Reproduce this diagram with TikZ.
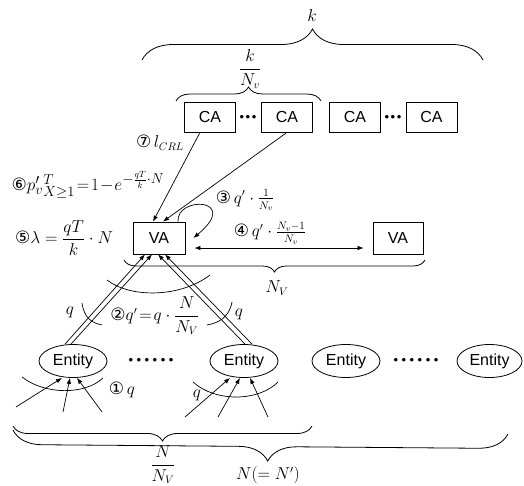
\documentclass[tikz,border=0pt]{standalone}
\usepackage{amsmath}
\usepackage{amssymb}
\usepackage{fontspec}
\newfontfamily\boxfont{Liberation Sans}
\newfontfamily\circfont{DejaVu Sans}
\usepackage{tikz}
\usetikzlibrary{shapes, arrows.meta, positioning, calc, decorations.pathreplacing}

\tikzset{
  agent/.style={draw, line width=0.8pt, minimum width=51pt, minimum height=30pt, inner sep=0pt,
    font=\boxfont\fontsize{16}{18}\selectfont},
  entity/.style={draw, ellipse, line width=0.8pt, minimum width=68pt, minimum height=33pt, inner sep=0pt,
    font=\boxfont\fontsize{16}{18}\selectfont},
  lbl/.style={inner sep=0pt, font=\fontsize{16}{18}\selectfont},
  dotrow/.style={inner sep=0pt, font=\boxfont\fontsize{13}{13}\selectfont},
  arr/.style={-{Latex[length=6pt,width=4.5pt]}, line width=0.7pt},
  curly/.style={decorate, decoration={brace, amplitude=#1}, line width=0.8pt},
  curlydown/.style={decorate, decoration={brace, mirror, amplitude=#1}, line width=0.8pt},
  crossline/.style={line width=0.7pt}
}
\newcommand{\cnum}[1]{{\circfont\fontsize{17}{18}\selectfont #1}}

\begin{document}
\begin{tikzpicture}[x=1pt, y=-1pt]
  \useasboundingbox (0,0) rectangle (524,485);

  % CA boxes
  \node[agent] (ca1) at (210,117) {CA};
  \node[agent] (ca2) at (287,117) {CA};
  \node[agent] (ca3) at (355,117) {CA};
  \node[agent] (ca4) at (431.5,117) {CA};
  \node[dotrow] (cadots1) at (248,118) {•\hspace{1.5pt}•\hspace{1.5pt}•};
  \node[dotrow] (cadots2) at (393,118) {•\hspace{1.5pt}•\hspace{1.5pt}•};

  % VA boxes
  \node[agent, minimum width=52pt, minimum height=32pt] (va1) at (159,238) {VA};
  \node[agent, minimum width=50pt, minimum height=32pt] (va2) at (398,238) {VA};

  % Entities
  \node[entity] (ent1) at (73,361) {Entity};
  \node[entity] (ent2) at (244,361) {Entity};
  \node[entity] (ent3) at (346,361) {Entity};
  \node[entity, minimum width=65pt] (ent4) at (489.5,361) {Entity};
  \node[dotrow] (entdots1) at (151,361) {•\hspace{3.5pt}•\hspace{3.5pt}•\hspace{3.5pt}•\hspace{3.5pt}•\hspace{3.5pt}•};
  \node[dotrow] (entdots2) at (416,361) {•\hspace{3.5pt}•\hspace{3.5pt}•\hspace{3.5pt}•\hspace{3.5pt}•\hspace{3.5pt}•};

  % Braces
  \draw[curly=31] (142,60) -- (483,60);
  \draw[curly=14] (176,101) -- (321,101);
  \draw[curlydown=12] (124,260) -- (425,260);
  \draw[curlydown=15] (13,426) -- (312,426);
  \draw[decorate, decoration={brace, mirror, amplitude=29, aspect=0.515}, line width=0.8pt] (13,430) -- (508,434);

  \node[lbl] (klbl) at (312,15) {$k$};
  \node[lbl] (kfrac) at (250,69) {$\dfrac{k}{N_v}$};
  \node[lbl] (nvlbl) at (277,288) {$N_V$};
  \node[lbl] (nfrac) at (163,465) {$\dfrac{N}{N_V}$};
  \node[lbl] (nall) at (268,475) {$N(=N')$};

  % CRL download
  \draw[arr] ($(ca1.south)+(-10,0)$) -- ($(va1.north)+(-6,0)$);
  \draw[arr] (ca2.south) -- ($(va1.north)+(4,0)$);
  \node[lbl] (crl) at (160,143) {\cnum{⑦}\,$l_{CRL}$};

  % Self loop and VA to VA
  \draw[arr] ($(va1.north)+(19,0)$) .. controls +(-2,-26) and +(48,-40) .. ($(va1.east)+(8,0)$);
  \draw[{Latex[length=6pt,width=4.5pt]}-{Latex[length=6pt,width=4.5pt]}, line width=0.7pt]
    ($(va1.east)+(9,10)$) -- ($(va2.west)+(-9,10)$);
  \node[lbl] (loop) at (245,200) {\cnum{③}\,$q'\cdot\frac{1}{N_v}$};
  \node[lbl] (other) at (270,233) {\cnum{④}\,$q'\cdot\frac{N_v-1}{N_v}$};

  % Formulas on the left
  \node[lbl, font=\fontsize{19}{21}\selectfont] (pform) at (88,185)
    {\cnum{⑥}$p'_{v}{}^{T}_{X\geq 1}\!=\!1\!-\!e^{-\frac{qT}{k}\cdot N}$};
  \node[lbl] (lam) at (64,238) {\cnum{⑤}$\lambda=\dfrac{qT}{k}\cdot N$};

  % Entity to VA queries
  \draw[arr] ($(ent1.north)+(-8,0)$) -- ($(va1.south)+(-14,0)$);
  \draw[arr] ($(ent1.north)+(-2,0)$) -- ($(va1.south)+(-7,0)$);
  \draw[arr] ($(ent2.north)+(1,0)$) -- ($(va1.south)+(-1,0)$);
  \draw[arr] ($(ent2.north)+(8,0)$) -- ($(va1.south)+(6,0)$);
  \draw[crossline] (107,280) .. controls (130,298) and (180,298) .. (210,275);
  \draw[crossline] (82,303) .. controls (84,318) and (92,323) .. (102,325);
  \draw[crossline] (232,302) .. controls (229,318) and (218,323) .. (207,325);
  \node[lbl] (qleft) at (70,312) {$q$};
  \node[lbl] (qright) at (239,314) {$q$};
  \node[lbl] (qprime) at (155,316) {\cnum{②}$q'\!=\!q\cdot\dfrac{N}{N_V}$};

  % Incoming queries to entities
  \coordinate (in1a) at (16,407);
  \coordinate (in1b) at (63,412);
  \coordinate (in1c) at (102,412);
  \coordinate (in2a) at (185,417);
  \coordinate (in2b) at (218,417);
  \coordinate (in2c) at (268,417);
  \draw[arr] (in1a) -- ($(ent1.south)+(-11,0)$);
  \draw[arr] (in1b) -- ($(ent1.south)+(-3,0)$);
  \draw[arr] (in1c) -- ($(ent1.south)+(4,0)$);
  \draw[arr] (in2a) -- ($(ent2.south)+(-14,0)$);
  \draw[arr] (in2b) -- ($(ent2.south)+(-4,0)$);
  \draw[arr] (in2c) -- ($(ent2.south)+(6,0)$);
  \draw[crossline] (22,377) .. controls (45,395) and (85,395) .. (103,378);
  \draw[crossline] (193,382) .. controls (215,402) and (258,402) .. (278,382);
  \node[lbl] (qin1) at (122,390) {\cnum{①}\,$q$};
  \node[lbl] (qin2) at (197,395) {$q$};
\end{tikzpicture}
\end{document}
